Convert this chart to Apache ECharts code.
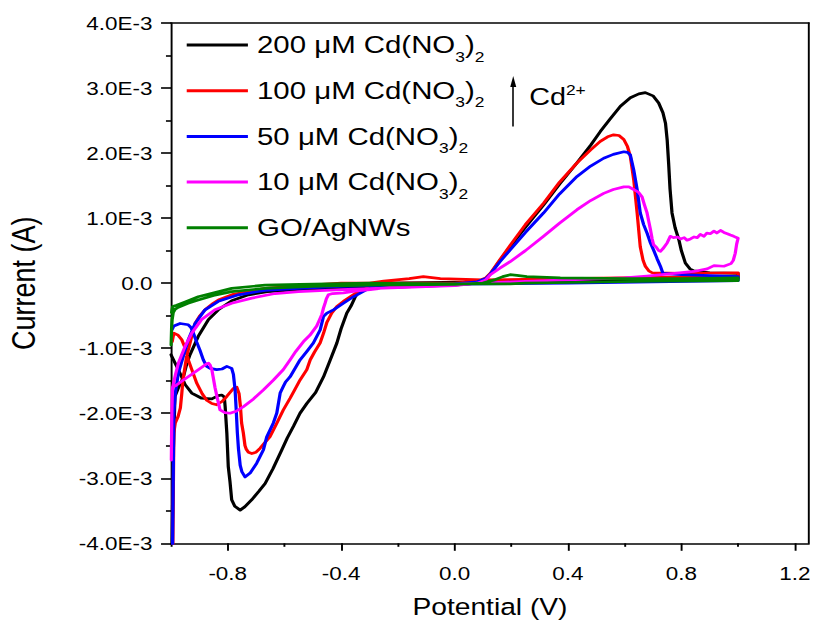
<!DOCTYPE html>
<html>
<head>
<meta charset="utf-8">
<script src="https://cdn.jsdelivr.net/npm/echarts@6/dist/echarts.min.js"></script>
<style>
html, body { margin: 0; padding: 0; background: #fff; overflow: hidden; }
#wrap { width: 814px; height: 628px; overflow: hidden; position: relative; background: #fff; }
#chart { width: 678.333px; height: 628px; transform: scaleX(1.2); transform-origin: 0 0; }
</style>
</head>
<body>
<div id="wrap"><div id="chart"></div></div>
<script>
// ---------------- data (Potential in V, Current in A) ----------------
const xMajorTicks = [-0.8, -0.4, 0.0, 0.4, 0.8, 1.2];
const xTickLabels = ['-0.8', '-0.4', '0.0', '0.4', '0.8', '1.2'];
const xMinorTicks = [-1.0, -0.6, -0.2, 0.2, 0.6, 1.0];
const yMajorTicks = [-4e-3, -3e-3, -2e-3, -1e-3, 0, 1e-3, 2e-3, 3e-3, 4e-3];
const yTickLabels = ['-4.0E-3', '-3.0E-3', '-2.0E-3', '-1.0E-3', '0.0', '1.0E-3', '2.0E-3', '3.0E-3', '4.0E-3'];

const seriesNames = ['200 μM Cd(NO3)2', '100 μM Cd(NO3)2', '50 μM Cd(NO3)2', '10 μM Cd(NO3)2', 'GO/AgNWs'];
const legendTexts = ['{n|200 μM Cd(NO}{s|3}{n|)}{s|2}', '{n|100 μM Cd(NO}{s|3}{n|)}{s|2}', '{n|50 μM Cd(NO}{s|3}{n|)}{s|2}', '{n|10 μM Cd(NO}{s|3}{n|)}{s|2}', '{n|GO/AgNWs}'];
const seriesColors = ['#000000', '#ff0000', '#0000ff', '#ff00ff', '#008000'];

const cd200 = [
  [-0.997,-4.3e-3],[-0.992,-2.6e-3],[-0.986,-1.74e-3],[-0.975,-1.62e-3],[-0.957,-1.45e-3],[-0.945,-1.25e-3],
  [-0.933,-1.10e-3],[-0.904,-0.82e-3],[-0.868,-0.56e-3],[-0.833,-0.41e-3],[-0.786,-0.27e-3],[-0.727,-0.18e-3],
  [-0.66,-0.13e-3],[-0.55,-0.10e-3],[-0.4,-0.08e-3],[-0.2,-0.06e-3],[0.0,-0.03e-3],[0.08,0.0],[0.11,0.06e-3],
  [0.13,0.16e-3],[0.16,0.35e-3],[0.196,0.56e-3],[0.25,0.86e-3],[0.314,1.2e-3],[0.37,1.52e-3],[0.432,1.85e-3],
  [0.48,2.12e-3],[0.514,2.33e-3],[0.55,2.53e-3],[0.585,2.72e-3],[0.62,2.85e-3],[0.65,2.91e-3],[0.673,2.93e-3],
  [0.70,2.88e-3],[0.72,2.77e-3],[0.735,2.62e-3],[0.744,2.46e-3],[0.75,2.2e-3],[0.755,1.85e-3],[0.76,1.45e-3],
  [0.767,1.08e-3],[0.778,0.85e-3],[0.791,0.67e-3],[0.80,0.5e-3],[0.814,0.31e-3],[0.83,0.22e-3],[0.844,0.19e-3],
  [0.9,0.16e-3],[1.0,0.15e-3],
  [1.0,0.07e-3],[0.7,0.05e-3],[0.4,0.04e-3],[0.1,0.02e-3],[-0.1,0.01e-3],[-0.25,0.0],[-0.31,-0.03e-3],
  [-0.333,-0.10e-3],[-0.35,-0.21e-3],[-0.365,-0.35e-3],[-0.38,-0.46e-3],[-0.4,-0.7e-3],[-0.415,-0.92e-3],
  [-0.44,-1.2e-3],[-0.462,-1.44e-3],[-0.49,-1.68e-3],[-0.521,-1.85e-3],[-0.545,-2.0e-3],[-0.568,-2.2e-3],
  [-0.59,-2.38e-3],[-0.609,-2.56e-3],[-0.64,-2.85e-3],[-0.668,-3.08e-3],[-0.69,-3.2e-3],[-0.715,-3.33e-3],
  [-0.74,-3.44e-3],[-0.756,-3.49e-3],[-0.775,-3.43e-3],[-0.786,-3.33e-3],[-0.792,-3.05e-3],[-0.798,-2.82e-3],
  [-0.803,-2.31e-3],[-0.809,-1.9e-3],[-0.812,-1.75e-3],[-0.821,-1.72e-3],[-0.833,-1.73e-3],[-0.856,-1.78e-3],
  [-0.892,-1.77e-3],[-0.927,-1.69e-3],[-0.95,-1.56e-3],[-0.974,-1.33e-3],[-1.0,-1.1e-3]
];

const cd100 = [
  [-0.994,-4.3e-3],[-0.99,-2.3e-3],[-0.985,-2.15e-3],[-0.975,-2.05e-3],[-0.967,-1.92e-3],[-0.962,-1.7e-3],
  [-0.958,-1.49e-3],[-0.945,-1.13e-3],[-0.927,-0.82e-3],[-0.915,-0.62e-3],[-0.898,-0.5e-3],[-0.88,-0.41e-3],
  [-0.851,-0.31e-3],[-0.833,-0.26e-3],[-0.78,-0.17e-3],[-0.668,-0.08e-3],[-0.551,-0.04e-3],[-0.4,0.0],
  [-0.2,0.0],[0.0,0.0],[0.08,0.03e-3],[0.11,0.08e-3],[0.126,0.15e-3],[0.16,0.36e-3],[0.196,0.58e-3],
  [0.25,0.9e-3],[0.314,1.23e-3],[0.37,1.55e-3],[0.432,1.85e-3],[0.48,2.05e-3],[0.514,2.18e-3],[0.54,2.25e-3],
  [0.561,2.28e-3],[0.58,2.27e-3],[0.597,2.21e-3],[0.61,2.1e-3],[0.62,1.95e-3],[0.632,1.59e-3],[0.644,1.08e-3],
  [0.655,0.56e-3],[0.665,0.35e-3],[0.673,0.26e-3],[0.685,0.19e-3],[0.697,0.16e-3],[0.8,0.15e-3],[1.0,0.16e-3],
  [1.0,0.11e-3],[0.7,0.09e-3],[0.4,0.07e-3],[0.1,0.05e-3],[-0.05,0.07e-3],[-0.11,0.1e-3],[-0.16,0.07e-3],
  [-0.25,0.03e-3],[-0.3,0.0],[-0.31,-0.08e-3],[-0.34,-0.13e-3],[-0.368,-0.21e-3],[-0.392,-0.28e-3],
  [-0.415,-0.36e-3],[-0.433,-0.46e-3],[-0.45,-0.6e-3],[-0.462,-0.77e-3],[-0.474,-0.92e-3],[-0.494,-1.06e-3],
  [-0.509,-1.18e-3],[-0.521,-1.33e-3],[-0.545,-1.49e-3],[-0.565,-1.65e-3],[-0.58,-1.77e-3],[-0.604,-1.95e-3],
  [-0.63,-2.18e-3],[-0.651,-2.36e-3],[-0.686,-2.54e-3],[-0.7,-2.6e-3],[-0.715,-2.62e-3],[-0.727,-2.6e-3],
  [-0.735,-2.55e-3],[-0.739,-2.5e-3],[-0.745,-2.3e-3],[-0.751,-2.15e-3],[-0.755,-1.9e-3],[-0.76,-1.7e-3],
  [-0.768,-1.6e-3],[-0.78,-1.62e-3],[-0.803,-1.74e-3],[-0.82,-1.82e-3],[-0.839,-1.87e-3],[-0.856,-1.85e-3],
  [-0.874,-1.80e-3],[-0.89,-1.7e-3],[-0.909,-1.54e-3],[-0.925,-1.35e-3],[-0.939,-1.18e-3],[-0.95,-1.0e-3],
  [-0.962,-0.87e-3],[-0.975,-0.8e-3],[-0.99,-0.77e-3],[-0.996,-0.9e-3]
];

const cd50 = [
  [-0.995,-4.3e-3],[-0.99,-2.0e-3],[-0.985,-1.7e-3],[-0.974,-1.38e-3],[-0.957,-1.13e-3],[-0.939,-0.87e-3],
  [-0.915,-0.62e-3],[-0.88,-0.41e-3],[-0.833,-0.28e-3],[-0.762,-0.18e-3],[-0.668,-0.11e-3],[-0.551,-0.08e-3],
  [-0.4,-0.05e-3],[-0.2,-0.03e-3],[0.0,-0.01e-3],[0.08,0.02e-3],[0.11,0.07e-3],[0.126,0.14e-3],[0.16,0.33e-3],
  [0.196,0.51e-3],[0.25,0.78e-3],[0.314,1.08e-3],[0.37,1.37e-3],[0.432,1.64e-3],[0.48,1.80e-3],[0.526,1.92e-3],
  [0.56,1.98e-3],[0.597,2.02e-3],[0.61,2.01e-3],[0.62,1.97e-3],[0.632,1.74e-3],[0.644,1.44e-3],[0.655,1.08e-3],
  [0.667,0.9e-3],[0.679,0.77e-3],[0.69,0.63e-3],[0.702,0.51e-3],[0.714,0.38e-3],[0.726,0.26e-3],[0.735,0.15e-3],
  [0.8,0.13e-3],[1.0,0.1e-3],
  [1.0,0.04e-3],[0.7,0.02e-3],[0.4,0.0],[0.1,-0.01e-3],[-0.1,-0.02e-3],[-0.25,-0.05e-3],[-0.31,-0.10e-3],
  [-0.357,-0.21e-3],[-0.392,-0.31e-3],[-0.427,-0.41e-3],[-0.45,-0.46e-3],[-0.462,-0.51e-3],[-0.474,-0.72e-3],
  [-0.498,-0.92e-3],[-0.521,-1.05e-3],[-0.545,-1.18e-3],[-0.58,-1.44e-3],[-0.596,-1.52e-3],[-0.604,-1.59e-3],
  [-0.615,-1.69e-3],[-0.627,-2.0e-3],[-0.639,-2.15e-3],[-0.662,-2.36e-3],[-0.674,-2.56e-3],[-0.698,-2.77e-3],
  [-0.721,-2.92e-3],[-0.739,-2.98e-3],[-0.75,-2.9e-3],[-0.756,-2.8e-3],[-0.762,-2.55e-3],[-0.766,-2.3e-3],
  [-0.77,-1.95e-3],[-0.774,-1.64e-3],[-0.78,-1.4e-3],[-0.786,-1.31e-3],[-0.803,-1.28e-3],[-0.82,-1.32e-3],
  [-0.839,-1.33e-3],[-0.862,-1.31e-3],[-0.874,-1.28e-3],[-0.886,-1.18e-3],[-0.898,-1.03e-3],[-0.91,-0.9e-3],
  [-0.921,-0.77e-3],[-0.93,-0.68e-3],[-0.939,-0.64e-3],[-0.968,-0.62e-3],[-0.99,-0.66e-3],[-0.997,-0.72e-3]
];

const cd10 = [
  [-0.999,-2.72e-3],[-0.997,-2.0e-3],[-0.995,-1.62e-3],[-0.985,-1.42e-3],[-0.974,-1.23e-3],[-0.951,-0.98e-3],
  [-0.927,-0.77e-3],[-0.892,-0.56e-3],[-0.845,-0.41e-3],[-0.786,-0.31e-3],[-0.715,-0.23e-3],[-0.633,-0.16e-3],
  [-0.551,-0.13e-3],[-0.4,-0.1e-3],[-0.2,-0.07e-3],[0.0,-0.04e-3],[0.08,0.0],[0.11,0.05e-3],[0.126,0.13e-3],
  [0.16,0.23e-3],[0.196,0.33e-3],[0.25,0.5e-3],[0.314,0.72e-3],[0.37,0.92e-3],[0.432,1.13e-3],[0.48,1.27e-3],
  [0.526,1.38e-3],[0.56,1.44e-3],[0.597,1.48e-3],[0.615,1.48e-3],[0.632,1.44e-3],[0.648,1.40e-3],
  [0.661,1.33e-3],[0.67,1.2e-3],[0.679,1.08e-3],[0.685,0.95e-3],[0.691,0.82e-3],[0.697,0.68e-3],
  [0.702,0.59e-3],[0.712,0.55e-3],[0.72,0.5e-3],[0.726,0.49e-3],[0.735,0.53e-3],[0.75,0.62e-3],[0.761,0.72e-3],
  [0.772,0.70e-3],[0.785,0.71e-3],[0.797,0.68e-3],[0.81,0.70e-3],[0.82,0.66e-3],[0.832,0.68e-3],[0.845,0.71e-3],
  [0.856,0.70e-3],[0.867,0.75e-3],[0.88,0.72e-3],[0.89,0.77e-3],[0.902,0.76e-3],[0.915,0.80e-3],[0.925,0.77e-3],
  [0.938,0.81e-3],[0.95,0.78e-3],[0.962,0.76e-3],[0.973,0.74e-3],[0.985,0.72e-3],[1.0,0.69e-3],[0.995,0.6e-3],
  [0.99,0.46e-3],[0.983,0.35e-3],[0.975,0.30e-3],[0.95,0.26e-3],[0.915,0.27e-3],[0.891,0.22e-3],[0.844,0.18e-3],
  [0.75,0.14e-3],[0.679,0.11e-3],
  [0.6,0.08e-3],[0.4,0.05e-3],[0.2,0.02e-3],[0.0,-0.02e-3],[-0.2,-0.05e-3],[-0.298,-0.1e-3],[-0.345,-0.12e-3],
  [-0.392,-0.15e-3],[-0.43,-0.16e-3],[-0.445,-0.18e-3],[-0.452,-0.24e-3],[-0.456,-0.3e-3],[-0.462,-0.38e-3],
  [-0.468,-0.48e-3],[-0.478,-0.58e-3],[-0.486,-0.66e-3],[-0.51,-0.8e-3],[-0.533,-0.9e-3],[-0.56,-1.05e-3],
  [-0.58,-1.18e-3],[-0.604,-1.33e-3],[-0.639,-1.49e-3],[-0.674,-1.64e-3],[-0.709,-1.78e-3],[-0.745,-1.9e-3],
  [-0.77,-1.97e-3],[-0.792,-2.0e-3],[-0.81,-1.99e-3],[-0.827,-1.95e-3],[-0.835,-1.8e-3],[-0.845,-1.6e-3],
  [-0.851,-1.45e-3],[-0.856,-1.33e-3],[-0.862,-1.26e-3],[-0.868,-1.23e-3],[-0.874,-1.24e-3],[-0.9,-1.32e-3],
  [-0.933,-1.42e-3],[-0.96,-1.5e-3],[-0.985,-1.58e-3],[-0.995,-1.6e-3]
];

const goAgNWs = [
  [-1.0,-0.95e-3],[-0.998,-0.7e-3],[-0.996,-0.56e-3],[-0.992,-0.45e-3],[-0.985,-0.4e-3],[-0.974,-0.37e-3],
  [-0.94,-0.31e-3],[-0.904,-0.26e-3],[-0.85,-0.19e-3],[-0.786,-0.13e-3],[-0.668,-0.08e-3],[-0.5,-0.05e-3],
  [-0.3,-0.03e-3],[0.0,-0.02e-3],[0.1,0.0],[0.14,0.05e-3],[0.17,0.1e-3],[0.196,0.13e-3],[0.22,0.12e-3],
  [0.255,0.1e-3],[0.373,0.08e-3],[0.61,0.07e-3],[0.8,0.07e-3],[1.0,0.08e-3],
  [1.0,0.04e-3],[0.7,0.03e-3],[0.4,0.01e-3],[0.25,0.0],[0.196,-0.01e-3],[0.1,-0.01e-3],[0.0,-0.01e-3],
  [-0.3,0.0],[-0.545,-0.02e-3],[-0.668,-0.03e-3],[-0.786,-0.08e-3],[-0.904,-0.21e-3],[-0.95,-0.29e-3],
  [-0.98,-0.34e-3],[-0.994,-0.36e-3],[-0.998,-0.45e-3]
];

const seriesData = [cd200, cd100, cd50, cd10, goAgNWs];

// annotation (arrow + "Cd2+" label), in data coordinates
const arrowFrom = [0.207, 2.41e-3];
const arrowTo = [0.207, 3.10e-3];
const annotPos = [0.261, 2.87e-3];

// ---------------- chart ----------------
const FONT = "'Liberation Sans', Arial, Helvetica, sans-serif";
const chart = echarts.init(document.getElementById('chart'), null, { renderer: 'svg', width: 678.333, height: 628 });

function pickLabel(v, ticks, labels) {
  for (let i = 0; i < ticks.length; i++) if (Math.abs(ticks[i] - v) < 1e-9) return labels[i];
  return '';
}

const axisLineStyle = { color: '#000', width: 1.6 };

const series = seriesData.map((d, i) => ({
  name: seriesNames[i],
  type: 'line',
  data: d,
  xAxisIndex: 0,
  yAxisIndex: 0,
  color: seriesColors[i],
  showSymbol: false,
  symbol: 'none',
  clip: true,
  smooth: false,
  silent: true,
  lineStyle: { width: 2.7, color: seriesColors[i], join: 'round', cap: 'round' },
  z: 2 + i
}));

series[0].markLine = {
  silent: true,
  animation: false,
  symbol: ['none', 'triangle'],
  symbolSize: [0, 10],
  lineStyle: { color: '#000', width: 1.3, type: 'solid' },
  label: { show: false },
  emphasis: { disabled: true },
  data: [[{ coord: arrowFrom, symbol: 'none' }, { coord: arrowTo, symbol: 'triangle', symbolSize: [5, 11] }]]
};
series[0].markPoint = {
  silent: true,
  animation: false,
  data: [{
    coord: annotPos,
    symbol: 'circle',
    symbolSize: 1,
    itemStyle: { color: 'rgba(0,0,0,0)' },
    label: {
      show: true,
      position: 'right',
      distance: 0,
      formatter: '{a|Cd}{b|2+}',
      rich: {
        a: { fontSize: 24, lineHeight: 28, fontFamily: FONT, color: '#000' },
        b: { fontSize: 14.5, lineHeight: 14, verticalAlign: 'top', fontFamily: FONT, color: '#000' }
      }
    }
  }]
};

const option = {
  animation: false,
  backgroundColor: '#fff',
  grid: { left: 142.5, right: 4.2, top: 23, bottom: 84.7, containLabel: false, outerBoundsMode: 'none' },
  legend: {
    orient: 'vertical',
    left: 155.6,
    top: 32.5,
    padding: 0,
    itemWidth: 51,
    itemHeight: 3,
    itemGap: 14,
    icon: 'rect',
    selectedMode: false,
    data: seriesNames,
    formatter: name => legendTexts[seriesNames.indexOf(name)],
    textStyle: {
      fontFamily: FONT,
      color: '#000',
      padding: [0, 0, 0, 2.6],
      rich: {
        n: { fontSize: 24.5, lineHeight: 38.4, fontFamily: FONT, color: '#000' },
        s: { fontSize: 14.5, lineHeight: 14, verticalAlign: 'bottom', fontFamily: FONT, color: '#000' }
      }
    }
  },
  xAxis: [
    {
      type: 'value', min: -1.0, max: 1.25, position: 'bottom',
      name: 'Potential (V)', nameLocation: 'middle', nameGap: 52,
      nameTextStyle: { fontFamily: FONT, fontSize: 23.5, color: '#000' },
      axisLine: { show: true, onZero: false, lineStyle: axisLineStyle },
      axisTick: { show: true, customValues: xMajorTicks, length: 7.5, lineStyle: axisLineStyle },
      axisLabel: {
        show: true, customValues: xMajorTicks, margin: 20,
        fontFamily: FONT, fontSize: 18.7, color: '#000',
        formatter: v => pickLabel(v, xMajorTicks, xTickLabels)
      },
      splitLine: { show: false }
    },
    {
      type: 'value', min: -1.0, max: 1.25, position: 'bottom',
      axisLine: { show: false, onZero: false },
      axisTick: { show: true, customValues: xMinorTicks, length: 3.5, lineStyle: axisLineStyle },
      axisLabel: { show: false },
      splitLine: { show: false }
    },
    {
      type: 'value', min: -1.0, max: 1.25, position: 'top',
      axisLine: { show: true, onZero: false, lineStyle: axisLineStyle },
      axisTick: { show: false }, axisLabel: { show: false }, splitLine: { show: false }
    }
  ],
  yAxis: [
    {
      type: 'value', min: -4e-3, max: 4e-3, interval: 1e-3, position: 'left',
      name: 'Current (A)', nameLocation: 'middle', nameGap: 109.5, nameRotate: 90,
      nameTextStyle: { fontFamily: FONT, fontSize: 27, color: '#000' },
      axisLine: { show: true, onZero: false, lineStyle: axisLineStyle },
      axisTick: { show: true, length: 8.3, lineStyle: axisLineStyle },
      minorTick: { show: true, splitNumber: 2, length: 4.2, lineStyle: axisLineStyle },
      axisLabel: {
        show: true, margin: 15.5, fontFamily: FONT, fontSize: 18.7, color: '#000',
        formatter: v => pickLabel(v, yMajorTicks, yTickLabels)
      },
      splitLine: { show: false }, minorSplitLine: { show: false }
    },
    {
      type: 'value', min: -4e-3, max: 4e-3, position: 'right',
      axisLine: { show: true, onZero: false, lineStyle: axisLineStyle },
      axisTick: { show: false }, axisLabel: { show: false }, splitLine: { show: false }
    }
  ],
  series: series
};

chart.setOption(option);
</script>
</body>
</html>
